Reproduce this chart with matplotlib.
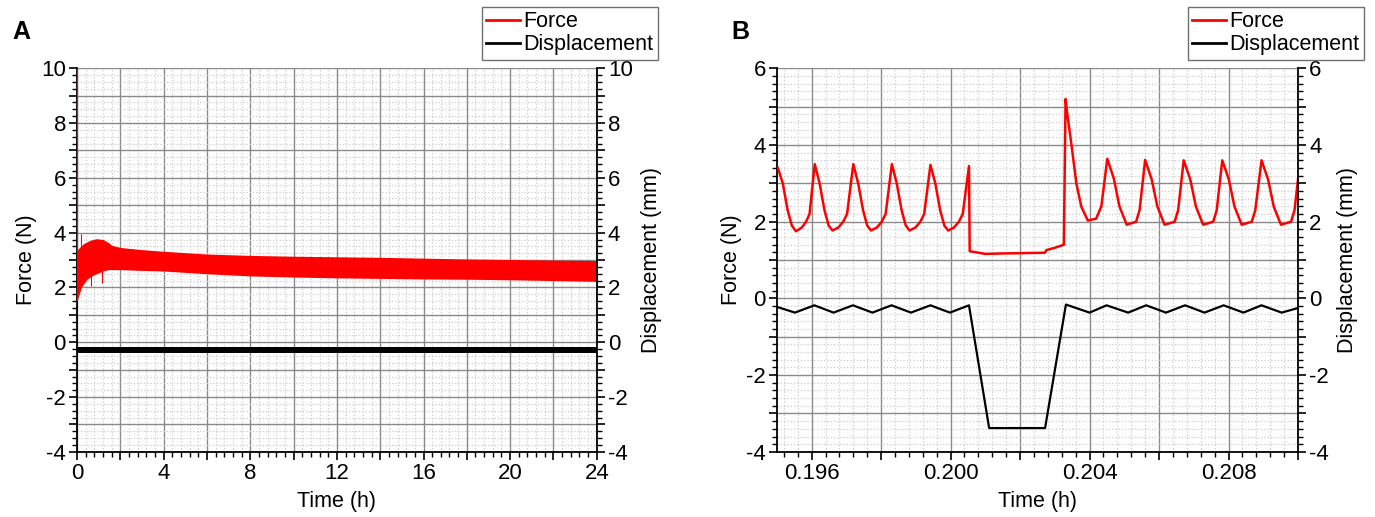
import numpy as np
import matplotlib
matplotlib.use('Agg')
import matplotlib.pyplot as plt
from matplotlib.lines import Line2D
from matplotlib.ticker import MultipleLocator, FuncFormatter

plt.rcParams['font.family'] = ['Liberation Sans', 'DejaVu Sans']
plt.rcParams['font.size'] = 15

# ---- panel A : 24 h run, force band envelope (N) ----
fa_time  = [0.0, 0.1, 0.2, 0.3, 0.45, 0.6, 0.75, 0.9, 1.2, 1.45, 1.6, 2.0, 3.0, 4.0,
            6.0, 8.0, 10.0, 12.0, 14.0, 16.0, 18.0, 20.0, 22.0, 24.0]
fa_upper = [3.35, 3.45, 3.52, 3.6, 3.66, 3.72, 3.75, 3.78, 3.75, 3.64, 3.54, 3.46, 3.38, 3.32,
            3.22, 3.17, 3.14, 3.12, 3.1, 3.07, 3.04, 3.02, 3.0, 2.98]
fa_lower = [1.5, 1.75, 2.0, 2.12, 2.29, 2.38, 2.45, 2.5, 2.6, 2.65, 2.65, 2.65, 2.62, 2.6,
            2.5, 2.42, 2.38, 2.35, 2.33, 2.31, 2.3, 2.28, 2.25, 2.22]
# isolated spikes in the force record
sp_time = [0.02, 0.18, 0.63, 1.14]
sp_lo   = [1.5, 3.4, 2.05, 2.17]
sp_hi   = [10.0, 3.96, 2.6, 2.6]
# displacement band (mm)
da_time  = [0.0, 24.0]
da_lower = [-0.38, -0.38]
da_upper = [-0.17, -0.17]

# ---- panel B : zoom around t = 0.2 h ----
fb_time = [0.19503, 0.19517, 0.19531, 0.19543, 0.19555, 0.19572, 0.19584, 0.19594,
           0.19609, 0.19623, 0.19637, 0.19649, 0.19660, 0.19677, 0.19691, 0.19702,
           0.19720, 0.19734, 0.19748, 0.19760, 0.19771, 0.19788, 0.19802, 0.19813,
           0.19831, 0.19845, 0.19859, 0.19871, 0.19882, 0.19899, 0.19913, 0.19924,
           0.19942, 0.19956, 0.19970, 0.19982, 0.19993, 0.20010, 0.20024, 0.20035,
           0.20053, 0.20055, 0.20075, 0.20100, 0.20140, 0.20200, 0.20271, 0.20276, 0.20300, 0.20326,
           0.20331, 0.20336, 0.20348, 0.20362, 0.20376, 0.20395, 0.20419, 0.20434,
           0.20451, 0.20470, 0.20486, 0.20507, 0.20534, 0.20544,
           0.20560, 0.20579, 0.20595, 0.20616, 0.20645, 0.20655,
           0.20671, 0.20690, 0.20706, 0.20727, 0.20756, 0.20766,
           0.20782, 0.20801, 0.20817, 0.20838, 0.20867, 0.20877,
           0.20895, 0.20914, 0.20930, 0.20951, 0.20980, 0.20990, 0.21000]
fb_force = [3.4, 3.0, 2.3, 1.9, 1.75, 1.85, 2.0, 2.2,
            3.5, 3.0, 2.3, 1.9, 1.77, 1.85, 2.0, 2.2,
            3.5, 3.0, 2.3, 1.9, 1.77, 1.85, 2.0, 2.2,
            3.5, 3.0, 2.3, 1.9, 1.77, 1.85, 2.0, 2.2,
            3.48, 3.0, 2.3, 1.9, 1.77, 1.85, 2.0, 2.2,
            3.45, 1.23, 1.2, 1.16, 1.17, 1.18, 1.19, 1.26, 1.32, 1.40,
            5.2, 4.8, 4.0, 3.0, 2.4, 2.03, 2.08, 2.4,
            3.64, 3.12, 2.4, 1.92, 2.0, 2.3,
            3.61, 3.1, 2.4, 1.92, 2.0, 2.3,
            3.6, 3.1, 2.4, 1.92, 2.0, 2.3,
            3.6, 3.1, 2.4, 1.92, 2.0, 2.3,
            3.6, 3.1, 2.4, 1.92, 2.0, 2.3, 3.1]
db_time = [0.19500, 0.19552, 0.19608, 0.19663, 0.19719, 0.19775, 0.19830, 0.19886, 0.19942, 0.19998,
           0.20053, 0.20111, 0.20272, 0.20332, 0.20400, 0.20449, 0.20511, 0.20563, 0.20620, 0.20675,
           0.20731, 0.20786, 0.20843, 0.20895, 0.20953, 0.21000]
db_disp = [-0.22, -0.37, -0.18, -0.37, -0.18, -0.37, -0.18, -0.37, -0.18, -0.37,
           -0.18, -3.38, -3.38, -0.16, -0.37, -0.18, -0.37, -0.18, -0.37, -0.18,
           -0.37, -0.18, -0.37, -0.18, -0.37, -0.25]

RED = '#ff0000'
TICK_FS = 16
LAB_FS = 15.5

fig = plt.figure(figsize=(13.75, 5.17), dpi=100)
axA = fig.add_axes([0.056, 0.126, 0.378, 0.742])
axB = fig.add_axes([0.565, 0.126, 0.379, 0.742])


def even_int(v, p):
    return '%d' % round(v) if round(v) % 2 == 0 else ''


def style(ax, xlim, ylim, xmaj, xlab_step, xmin, ymin, xfmt):
    ax.set_xlim(*xlim)
    ax.set_ylim(*ylim)
    ax.xaxis.set_major_locator(MultipleLocator(xmaj))
    ax.xaxis.set_minor_locator(MultipleLocator(xmin))
    ax.yaxis.set_major_locator(MultipleLocator(1))
    ax.yaxis.set_minor_locator(MultipleLocator(ymin))
    ax.xaxis.set_major_formatter(FuncFormatter(
        lambda v, p: xfmt(v) if abs(round(v / xlab_step) * xlab_step - v) < xmaj * 0.01 else ''))
    ax.yaxis.set_major_formatter(FuncFormatter(even_int))
    ax.grid(which='minor', color='#cccccc', linestyle=':', linewidth=0.9)
    ax.grid(which='major', color='#8a8a8a', linestyle='-', linewidth=1.0)
    ax.set_axisbelow(True)
    ax.spines['top'].set_visible(False)
    ax.spines['right'].set_visible(False)
    ax.tick_params(which='major', direction='out', length=6, width=1.2, labelsize=TICK_FS, pad=2)
    ax.tick_params(which='minor', direction='out', length=3.5, width=1.0)
    for s in ['left', 'bottom']:
        ax.spines[s].set_linewidth(1.3)
    ax.set_xlabel('Time (h)', fontsize=LAB_FS, labelpad=5)
    ax.set_ylabel('Force (N)', fontsize=LAB_FS, labelpad=3)
    tw = ax.twinx()
    tw.set_ylim(*ylim)
    tw.yaxis.set_major_locator(MultipleLocator(1))
    tw.yaxis.set_minor_locator(MultipleLocator(ymin))
    tw.yaxis.set_major_formatter(FuncFormatter(even_int))
    tw.spines['top'].set_visible(False)
    tw.spines['left'].set_visible(False)
    tw.spines['bottom'].set_visible(False)
    tw.spines['right'].set_linewidth(1.3)
    tw.tick_params(which='major', direction='out', length=6, width=1.2, labelsize=TICK_FS, pad=2)
    tw.tick_params(which='minor', direction='out', length=3.5, width=1.0)
    tw.set_ylabel('Displacement (mm)', fontsize=LAB_FS, labelpad=6)
    return tw


twA = style(axA, (0, 24), (-4, 10), 2, 4, 0.4, 0.25, lambda v: '%d' % round(v))
twB = style(axB, (0.195, 0.210), (-4, 6), 0.002, 0.004, 0.0004, 0.2, lambda v: '%.3f' % v)

# panel A
axA.fill_between(fa_time, fa_lower, fa_upper, color=RED, lw=0, zorder=3)
axA.vlines(sp_time, sp_lo, sp_hi, color=RED, lw=0.8, zorder=3)
twA.fill_between(da_time, da_lower, da_upper, color='black', lw=0)

# panel B
axB.plot(fb_time, fb_force, color=RED, lw=1.8, zorder=3)
twB.plot(db_time, db_disp, color='black', lw=1.6)

handles = [Line2D([], [], color=RED, lw=2), Line2D([], [], color='black', lw=2)]
for xr in [658, 1364]:
    leg = fig.legend(handles, ['Force', 'Displacement'], loc='upper right',
                     bbox_to_anchor=(xr / 1375, 1 - 7 / 517), fontsize=15.5,
                     fancybox=False, edgecolor='#707070', framealpha=1,
                     handlelength=1.6, handletextpad=0.15, borderpad=0.2,
                     labelspacing=0.1, borderaxespad=0)
    leg.get_frame().set_linewidth(1.0)

fig.text(12 / 1375, 1 - 32 / 517, 'A', fontsize=18, fontweight='bold', va='center')
fig.text(731 / 1375, 1 - 32 / 517, 'B', fontsize=18, fontweight='bold', va='center')

fig.savefig('out.png', dpi=100)
